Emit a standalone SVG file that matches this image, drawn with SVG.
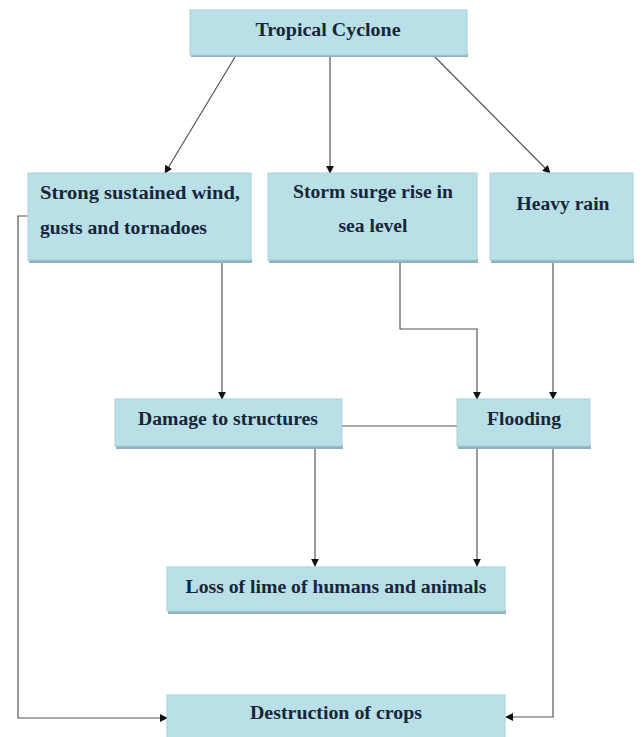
<svg xmlns="http://www.w3.org/2000/svg" width="642" height="737" viewBox="0 0 642 737">
<defs>
<style>
.box{fill:#b9dfe7;stroke:#a9cfd8;stroke-width:1}
.sh{fill:#8fb3bd}
.t{font-family:"Liberation Serif","Times New Roman",serif;font-weight:bold;font-size:18px;fill:#17263a}
.c{text-anchor:middle}
.ln{fill:none;stroke:#555;stroke-width:1.2}
</style>
<marker id="ah" viewBox="0 0 10 10" refX="9" refY="5" markerWidth="8" markerHeight="8" orient="auto" markerUnits="userSpaceOnUse">
<path d="M0,0 L10,5 L0,10 z" fill="#111"/>
</marker>
</defs>
<rect width="642" height="737" fill="#fff"/>
<g id="connectors">
<line class="ln" x1="235" y1="57" x2="165" y2="173" marker-end="url(#ah)"/>
<line class="ln" x1="330" y1="57" x2="330" y2="173" marker-end="url(#ah)"/>
<line class="ln" x1="435" y1="57" x2="550" y2="173" marker-end="url(#ah)"/>
<line class="ln" x1="222" y1="262" x2="222" y2="399" marker-end="url(#ah)"/>
<polyline class="ln" points="400,262 400,329 477,329 477,399" marker-end="url(#ah)"/>
<line class="ln" x1="553" y1="262" x2="553" y2="399" marker-end="url(#ah)"/>
<line class="ln" x1="342" y1="426" x2="458" y2="426"/>
<line class="ln" x1="315" y1="448" x2="315" y2="566" marker-end="url(#ah)"/>
<line class="ln" x1="477" y1="448" x2="477" y2="566" marker-end="url(#ah)"/>
<polyline class="ln" points="553,448 553,717 506,717" marker-end="url(#ah)"/>
<polyline class="ln" points="29,216 18,216 18,718 167,718" marker-end="url(#ah)"/>
</g>
<g id="tropical-cyclone">
<rect class="sh" x="191" y="53" width="277" height="4"/>
<rect class="box" x="190" y="10" width="277" height="45"/>
<text class="t c" x="328" y="36" textLength="145" lengthAdjust="spacingAndGlyphs">Tropical Cyclone</text>
</g>
<g id="strong-wind">
<rect class="sh" x="29" y="259" width="223" height="4"/>
<rect class="box" x="28" y="173" width="223" height="87"/>
<text class="t" x="40" y="199" textLength="200" lengthAdjust="spacingAndGlyphs">Strong  sustained  wind,</text>
<text class="t" x="40" y="234" textLength="167" lengthAdjust="spacingAndGlyphs">gusts and tornadoes</text>
</g>
<g id="storm-surge">
<rect class="sh" x="269" y="259" width="209" height="4"/>
<rect class="box" x="268" y="173" width="209" height="87"/>
<text class="t c" x="373" y="198" textLength="160" lengthAdjust="spacingAndGlyphs">Storm surge rise in</text>
<text class="t c" x="373" y="232" textLength="69" lengthAdjust="spacingAndGlyphs">sea level</text>
</g>
<g id="heavy-rain">
<rect class="sh" x="491" y="259" width="143" height="4"/>
<rect class="box" x="490" y="173" width="143" height="87"/>
<text class="t c" x="563" y="210" textLength="93" lengthAdjust="spacingAndGlyphs">Heavy rain</text>
</g>
<g id="damage">
<rect class="sh" x="116" y="445" width="227" height="4"/>
<rect class="box" x="115" y="399" width="227" height="47"/>
<text class="t c" x="228" y="425" textLength="180" lengthAdjust="spacingAndGlyphs">Damage to structures</text>
</g>
<g id="flooding">
<rect class="sh" x="458" y="445" width="133" height="4"/>
<rect class="box" x="457" y="399" width="133" height="47"/>
<text class="t c" x="524" y="425" textLength="74" lengthAdjust="spacingAndGlyphs">Flooding</text>
</g>
<g id="loss-of-life">
<rect class="sh" x="168" y="610" width="338" height="4"/>
<rect class="box" x="167" y="567" width="338" height="44"/>
<text class="t c" x="336" y="593" textLength="301" lengthAdjust="spacingAndGlyphs">Loss of lime of humans and animals</text>
</g>
<g id="destruction">
<rect class="box" x="167" y="695" width="338" height="46"/>
<text class="t c" x="336" y="719" textLength="172" lengthAdjust="spacingAndGlyphs">Destruction of crops</text>
</g>
</svg>
